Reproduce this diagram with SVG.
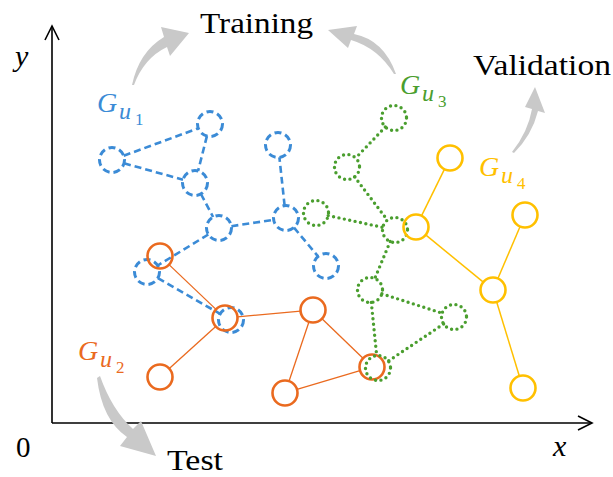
<svg xmlns="http://www.w3.org/2000/svg" width="613" height="477" viewBox="0 0 613 477">
<style>
  .ax{stroke:#000;stroke-width:1.6;fill:none}
  .lbl{font-family:"Liberation Serif","DejaVu Serif",serif;fill:#000}
  .it{font-family:"Liberation Serif","DejaVu Serif",serif;font-style:italic}
  .garrow{fill:#c9c9c9}
  .bc{fill:none;stroke:#3b8bd6;stroke-width:3;stroke-dasharray:7 4}
  .be{stroke:#3b8bd6;stroke-width:2.6;stroke-dasharray:7 4;fill:none}
  .oc{fill:none;stroke:#ea6a1f;stroke-width:2.6}
  .oe{stroke:#ea6a1f;stroke-width:1.3;fill:none}
  .gc{fill:none;stroke:#4a9e2e;stroke-width:3.4;stroke-linecap:round;stroke-dasharray:0 5.5}
  .ge{stroke:#4a9e2e;stroke-width:3.4;stroke-linecap:round;stroke-dasharray:0 5.5;fill:none}
  .yc{fill:none;stroke:#ffc000;stroke-width:2.6}
  .ye{stroke:#ffc000;stroke-width:1.5;fill:none}
  .gG{font-size:28px}
  .gu{font-size:24px}
  .gd{font-size:17px;font-style:normal}
</style>
<rect width="613" height="477" fill="#fff"/>
<g id="axes">
  <path class="ax" d="M52,423 V26 M52,423 H592"/>
  <path class="ax" d="M45,40 L52,26 L59,40"/>
  <path class="ax" d="M578,416 L592,423 L578,430"/>
  <text class="it" x="15" y="66" font-size="30">y</text>
  <text class="it" x="553" y="456" font-size="30">x</text>
  <text class="lbl" x="16" y="457" font-size="29">0</text>
</g>
<g id="phase-labels">
  <text class="lbl" x="200" y="33" font-size="29" textLength="113" lengthAdjust="spacingAndGlyphs">Training</text>
  <text class="lbl" x="473" y="75" font-size="29" textLength="138" lengthAdjust="spacingAndGlyphs">Validation</text>
  <text class="lbl" x="167" y="470" font-size="29" textLength="56" lengthAdjust="spacingAndGlyphs">Test</text>
</g>
<g id="gray-arrows">
  <path class="garrow" d="M132,85 Q139,52 164,37 L161,27 L189,33 L170,56 L167,47 Q144,58 134,85 Z"/>
  <path class="garrow" d="M396,74 Q384,40 354,34 L357,26 L328,30 L348,48 L351,40 Q378,48 394,74 Z"/>
  <path class="garrow" d="M514,153 Q532,135 538,111 L545,113 L535,87 L525,107 L532,109 Q528,132 512,152 Z"/>
  <path class="garrow" d="M97,378 Q102,420 127,437 L120,446 L156,456 L141,421 L133,429 Q112,410 100,376 Z"/>
</g>
<g id="connectors">
  <g id="blue-edges">
    <line class="be" x1="123.7" y1="155.7" x2="198.3" y2="128.3"/>
    <line class="be" x1="124" y1="163.3" x2="183" y2="179.7"/>
    <line class="be" x1="206.9" y1="136.1" x2="198.1" y2="170.9"/>
    <line class="be" x1="200.9" y1="194" x2="213.1" y2="217"/>
    <line class="be" x1="231.4" y1="226.2" x2="273.6" y2="219.8"/>
    <line class="be" x1="284.6" y1="205.6" x2="279.4" y2="157.4"/>
    <line class="be" x1="294" y1="227.6" x2="318" y2="256.4"/>
    <line class="be" x1="208.3" y1="234.5" x2="157.7" y2="265.5"/>
    <line class="be" x1="157.9" y1="278.2" x2="220.1" y2="313.8"/>
  </g>
  <g id="orange-edges">
    <line class="oe" x1="169" y1="264.6" x2="216" y2="309.4"/>
    <line class="oe" x1="215.7" y1="326.4" x2="169.3" y2="368.6"/>
    <line class="oe" x1="237.4" y1="316.9" x2="300.5" y2="311.1"/>
    <line class="oe" x1="309" y1="321.8" x2="289" y2="381.2"/>
    <line class="oe" x1="322" y1="318.7" x2="363" y2="358.3"/>
    <line class="oe" x1="297" y1="389.4" x2="360" y2="370.6"/>
  </g>
  <g id="green-edges">
    <line class="ge" x1="385.3" y1="127" x2="355.7" y2="158"/>
    <line class="ge" x1="354.6" y1="176.9" x2="387.4" y2="220.1"/>
    <line class="ge" x1="328.2" y1="215.6" x2="382.8" y2="227.4"/>
    <line class="ge" x1="390.2" y1="241.5" x2="374.8" y2="278.5"/>
    <line class="ge" x1="381.9" y1="293.8" x2="442.1" y2="313.2"/>
    <line class="ge" x1="371.3" y1="302.4" x2="376.7" y2="355.6"/>
    <line class="ge" x1="443.6" y1="324" x2="388.4" y2="361"/>
  </g>
  <g id="yellow-edges">
    <line class="ye" x1="421.5" y1="215.8" x2="444.5" y2="169.2"/>
    <line class="ye" x1="425.7" y1="234.9" x2="483.3" y2="282.1"/>
    <line class="ye" x1="520.1" y1="226.5" x2="497.9" y2="278.5"/>
    <line class="ye" x1="496.7" y1="302" x2="519.3" y2="376"/>
  </g>
</g>
<g id="graph-u1">
  <g id="b1"><circle class="bc" cx="210" cy="124" r="12.5"/></g>
  <g id="b2"><circle class="bc" cx="112" cy="160" r="12.5"/></g>
  <g id="b3"><circle class="bc" cx="195" cy="183" r="12.5"/></g>
  <g id="b4"><circle class="bc" cx="278" cy="145" r="12.5"/></g>
  <g id="b5"><circle class="bc" cx="219" cy="228" r="12.5"/></g>
  <g id="b6"><circle class="bc" cx="286" cy="218" r="12.5"/></g>
  <g id="b7"><circle class="bc" cx="326" cy="266" r="12.5"/></g>
  <g id="b8"><circle class="bc" cx="147" cy="272" r="12.5"/></g>
  <g id="b9"><circle class="bc" cx="231" cy="320" r="12.5"/></g>
  <g id="label-u1"><text class="it" fill="#3b8bd6"><tspan class="gG" x="97" y="112">G</tspan><tspan class="gu" x="119" y="119">u</tspan><tspan class="gd" x="135" y="125">1</tspan></text></g>
</g>
<g id="graph-u2">
  <g id="o1"><circle class="oc" cx="160" cy="256" r="12.5"/></g>
  <g id="o2"><circle class="oc" cx="225" cy="318" r="12.5"/></g>
  <g id="o3"><circle class="oc" cx="160" cy="377" r="12.5"/></g>
  <g id="o4"><circle class="oc" cx="313" cy="310" r="12.5"/></g>
  <g id="o5"><circle class="oc" cx="285" cy="393" r="12.5"/></g>
  <g id="o6"><circle class="oc" cx="372" cy="367" r="12.5"/></g>
  <g id="label-u2"><text class="it" fill="#ea6a1f"><tspan class="gG" x="78" y="360">G</tspan><tspan class="gu" x="100" y="367">u</tspan><tspan class="gd" x="116" y="373">2</tspan></text></g>
</g>
<g id="graph-u3">
  <g id="g1"><circle class="gc" cx="394" cy="118" r="12.5"/></g>
  <g id="g2"><circle class="gc" cx="347" cy="167" r="12.5"/></g>
  <g id="g3"><circle class="gc" cx="316" cy="213" r="12.5"/></g>
  <g id="g4"><circle class="gc" cx="395" cy="230" r="12.5"/></g>
  <g id="g5"><circle class="gc" cx="370" cy="290" r="12.5"/></g>
  <g id="g6"><circle class="gc" cx="454" cy="317" r="12.5"/></g>
  <g id="g7"><circle class="gc" cx="378" cy="368" r="12.5"/></g>
  <g id="label-u3"><text class="it" fill="#4a9e2e"><tspan class="gG" x="400" y="94">G</tspan><tspan class="gu" x="422" y="101">u</tspan><tspan class="gd" x="438" y="107">3</tspan></text></g>
</g>
<g id="graph-u4">
  <g id="y1"><circle class="yc" cx="416" cy="227" r="12.5"/></g>
  <g id="y2"><circle class="yc" cx="450" cy="158" r="12.5"/></g>
  <g id="y3"><circle class="yc" cx="525" cy="215" r="12.5"/></g>
  <g id="y4"><circle class="yc" cx="493" cy="290" r="12.5"/></g>
  <g id="y5"><circle class="yc" cx="523" cy="388" r="12.5"/></g>
  <g id="label-u4"><text class="it" fill="#ffc000"><tspan class="gG" x="479" y="176">G</tspan><tspan class="gu" x="501" y="183">u</tspan><tspan class="gd" x="517" y="189">4</tspan></text></g>
</g>
</svg>
